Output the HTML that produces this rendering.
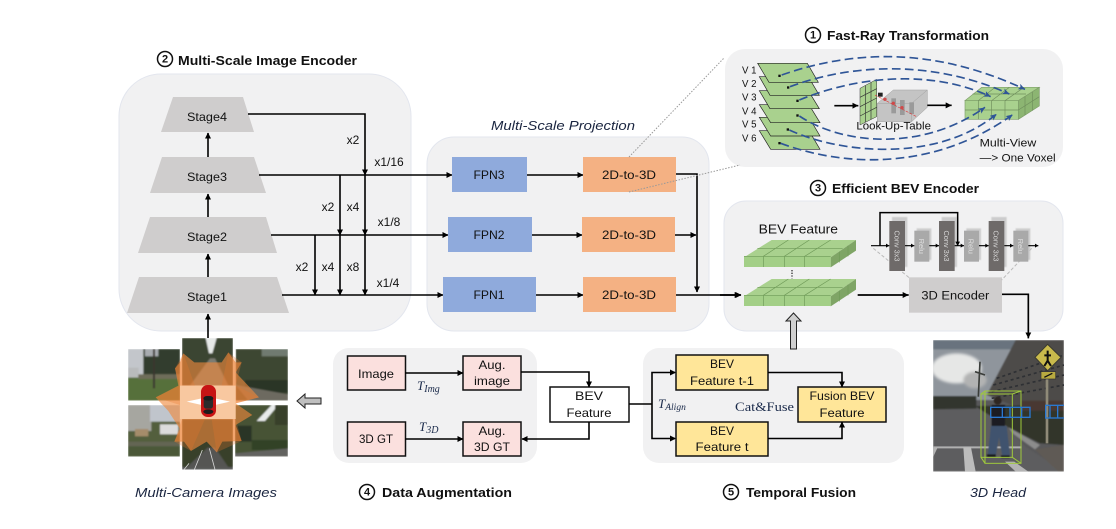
<!DOCTYPE html>
<html><head><meta charset="utf-8"><style>
html,body{margin:0;padding:0;background:#fff}
svg{display:block}
text{font-family:"Liberation Sans",sans-serif;fill:#111}
.c{text-anchor:middle;dominant-baseline:central;font-size:12px}
.b{font-weight:bold;font-size:13px;fill:#111}
.i{font-style:italic;font-size:13px;text-anchor:middle;fill:#1a2540}
.m{font-family:"Liberation Serif",serif;font-style:italic;fill:#1a2a4a}
.l{fill:none;stroke:#000;stroke-width:1.6}
.p{fill:#f1f1f2;stroke:#e3e6ee;stroke-width:1}
</style></head><body>
<svg width="1116" height="529" viewBox="0 0 1116 529" xmlns="http://www.w3.org/2000/svg">
<defs>
<marker id="a" markerWidth="7" markerHeight="7" refX="5.5" refY="3" orient="auto" markerUnits="userSpaceOnUse"><path d="M0,0L6,3L0,6z" fill="#000"/></marker>
<marker id="bl" markerWidth="30" markerHeight="30" refX="20" refY="9" orient="auto" markerUnits="userSpaceOnUse"><path d="M0,0L20,9L0,18L5,9z" fill="#2f5597"/></marker>
<marker id="az" markerWidth="24" markerHeight="24" refX="18" refY="9" orient="auto" markerUnits="userSpaceOnUse"><path d="M0,0L18,9L0,18z" fill="#000"/></marker>
<filter id="f1" x="-10%" y="-10%" width="120%" height="120%"><feGaussianBlur stdDeviation="1.5"/></filter>
<filter id="f3" x="-5%" y="-5%" width="110%" height="110%"><feGaussianBlur stdDeviation="4"/></filter>
<filter id="f4" x="-5%" y="-5%" width="110%" height="110%"><feGaussianBlur stdDeviation="2"/></filter>
<clipPath id="c1"><rect x="39" y="42" width="156" height="155"/></clipPath>
<clipPath id="c2"><rect x="201" y="9" width="153" height="143"/></clipPath>
<clipPath id="c3"><rect x="362" y="42" width="157" height="155"/></clipPath>
<clipPath id="c4"><rect x="39" y="210" width="156" height="155"/></clipPath>
<clipPath id="c5"><rect x="201" y="252" width="153" height="152"/></clipPath>
<clipPath id="c6"><rect x="360" y="210" width="159" height="155"/></clipPath>
<clipPath id="c7"><rect x="24" y="30" width="393" height="395"/></clipPath>
</defs>

<!-- panels -->
<rect class="p" x="119" y="74" width="292" height="257" rx="42"/>
<rect class="p" x="427" y="137" width="282" height="194" rx="27"/>
<rect x="725" y="49" width="338" height="118" rx="20" fill="#f1f1f2"/>
<rect class="p" x="724" y="201" width="339" height="130" rx="22"/>
<rect x="333" y="348" width="204" height="115" rx="16" fill="#f1f1f2"/>
<rect x="643" y="348" width="261" height="115" rx="16" fill="#f1f1f2"/>

<!-- titles -->
<circle cx="165" cy="59" r="7.5" fill="none" stroke="#111" stroke-width="1.5"/><text x="165" y="59.5" class="c" style="font-size:11px;font-weight:bold">2</text>
<text x="178" y="65" class="b" textLength="179" lengthAdjust="spacingAndGlyphs">Multi-Scale Image Encoder</text>
<circle cx="813" cy="35" r="7.5" fill="none" stroke="#111" stroke-width="1.5"/><text x="813" y="35.5" class="c" style="font-size:11px;font-weight:bold">1</text>
<text x="827" y="40" class="b" textLength="162" lengthAdjust="spacingAndGlyphs">Fast-Ray Transformation</text>
<circle cx="818" cy="188" r="7.5" fill="none" stroke="#111" stroke-width="1.5"/><text x="818" y="188.5" class="c" style="font-size:11px;font-weight:bold">3</text>
<text x="832" y="193" class="b" textLength="147" lengthAdjust="spacingAndGlyphs">Efficient BEV  Encoder</text>
<circle cx="367" cy="492" r="7.5" fill="none" stroke="#111" stroke-width="1.5"/><text x="367" y="492.5" class="c" style="font-size:11px;font-weight:bold">4</text>
<text x="382" y="497" class="b" textLength="130" lengthAdjust="spacingAndGlyphs">Data Augmentation</text>
<circle cx="731" cy="492" r="7.5" fill="none" stroke="#111" stroke-width="1.5"/><text x="731" y="492.5" class="c" style="font-size:11px;font-weight:bold">5</text>
<text x="746" y="497" class="b" textLength="110" lengthAdjust="spacingAndGlyphs">Temporal Fusion</text>
<text x="563" y="130" class="i" textLength="144" lengthAdjust="spacingAndGlyphs">Multi-Scale Projection</text>
<text x="206" y="497" class="i" textLength="142" lengthAdjust="spacingAndGlyphs">Multi-Camera Images</text>
<text x="998" y="497" class="i" textLength="56" lengthAdjust="spacingAndGlyphs">3D Head</text>

<!-- stages -->
<g fill="#cfcdcd">
<polygon points="173,97 243,97 254,132 161,132"/>
<polygon points="162,157 254,157 266,193 150,193"/>
<polygon points="150,217 266,217 277,253 138,253"/>
<polygon points="139,277 277,277 289,313 127,313"/>
</g>
<text x="207" y="117" class="c" textLength="40" lengthAdjust="spacingAndGlyphs">Stage4</text>
<text x="207" y="177" class="c" textLength="40" lengthAdjust="spacingAndGlyphs">Stage3</text>
<text x="207" y="237" class="c" textLength="40" lengthAdjust="spacingAndGlyphs">Stage2</text>
<text x="207" y="297" class="c" textLength="40" lengthAdjust="spacingAndGlyphs">Stage1</text>
<g>
<path class="l" d="M208,338V314" marker-end="url(#a)"/>
<path class="l" d="M208,277V254" marker-end="url(#a)"/>
<path class="l" d="M208,217V194" marker-end="url(#a)"/>
<path class="l" d="M208,157V133" marker-end="url(#a)"/>
<path class="l" d="M248,114H365V175" marker-end="url(#a)"/>
<path class="l" d="M365,175V235" marker-end="url(#a)"/>
<path class="l" d="M365,235V295" marker-end="url(#a)"/>
<path class="l" d="M340,175V235" marker-end="url(#a)"/>
<path class="l" d="M340,235V295" marker-end="url(#a)"/>
<path class="l" d="M315,235V295" marker-end="url(#a)"/>
<path class="l" d="M259,175H452" marker-end="url(#a)"/>
<path class="l" d="M271,235H448" marker-end="url(#a)"/>
<path class="l" d="M282,295H443" marker-end="url(#a)"/>
<path class="l" d="M527,175H583" marker-end="url(#a)"/>
<path class="l" d="M532,235H582" marker-end="url(#a)"/>
<path class="l" d="M536,295H583" marker-end="url(#a)"/>
<path class="l" d="M676,174H697V292" marker-end="url(#a)"/>
<path class="l" d="M675,235H696" marker-end="url(#a)"/>
<path class="l" d="M676,295H741" marker-end="url(#a)"/>
</g>
<text x="353" y="140" class="c">x2</text><text x="389" y="162" class="c">x1/16</text>
<text x="328" y="207" class="c">x2</text><text x="353" y="207" class="c">x4</text><text x="389" y="222" class="c">x1/8</text>
<text x="302" y="267" class="c">x2</text><text x="328" y="267" class="c">x4</text><text x="353" y="267" class="c">x8</text><text x="388" y="283" class="c">x1/4</text>

<!-- FPN / 2D-3D -->
<g fill="#8faadc">
<rect x="452" y="157" width="75" height="35"/><rect x="448" y="217" width="84" height="35"/><rect x="443" y="277" width="93" height="35"/>
</g>
<g fill="#f4b183">
<rect x="583" y="157" width="93" height="35"/><rect x="582" y="217" width="93" height="35"/><rect x="583" y="277" width="93" height="35"/>
</g>
<text x="489" y="175" class="c" textLength="31" lengthAdjust="spacingAndGlyphs">FPN3</text>
<text x="489" y="235" class="c" textLength="31" lengthAdjust="spacingAndGlyphs">FPN2</text>
<text x="489" y="295" class="c" textLength="31" lengthAdjust="spacingAndGlyphs">FPN1</text>
<text x="629" y="175" class="c" textLength="54" lengthAdjust="spacingAndGlyphs">2D-to-3D</text>
<text x="629" y="235" class="c" textLength="54" lengthAdjust="spacingAndGlyphs">2D-to-3D</text>
<text x="629" y="295" class="c" textLength="54" lengthAdjust="spacingAndGlyphs">2D-to-3D</text>
<path d="M629,157L724,58M629,192L740,165" fill="none" stroke="#999" stroke-width="1" stroke-dasharray="1.5,1.5"/>

<!-- Fast-ray -->
<g transform="translate(720,20) scale(.33333)">
<g fill="#a9d18e" stroke="#222" stroke-width="2">
<polygon points="118,332 267,332 300,388 152,388"/>
<polygon points="118,292 267,292 300,348 152,348"/>
<polygon points="118,254 267,254 300,308 152,308"/>
<polygon points="118,212 265,212 298,266 150,266"/>
<polygon points="118,170 265,170 298,226 150,226"/>
<polygon points="113,130 262,130 295,187 147,187"/>
</g>
<g fill="#111"><rect x="175" y="164" width="7" height="7"/><rect x="201" y="199" width="7" height="7"/><rect x="229" y="239" width="7" height="7"/><rect x="229" y="283" width="7" height="7"/><rect x="200" y="325" width="7" height="7"/><rect x="175" y="366" width="7" height="7"/></g>
<g><text x="66" y="160" style="font-size:29px">V 1</text><text x="66" y="201" style="font-size:29px">V 2</text><text x="66" y="241" style="font-size:29px">V 3</text><text x="66" y="283" style="font-size:29px">V 4</text><text x="66" y="323" style="font-size:29px">V 5</text><text x="66" y="364" style="font-size:29px">V 6</text></g>
<!-- box -->
<polygon points="472,250 520,210 622,210 622,262 575,305 472,305" fill="#c4c4c4" stroke="#a0a0a0" stroke-width="1.5"/>
<path d="M472,250H575V305M575,250L622,210" fill="none" stroke="#a0a0a0" stroke-width="1.5"/>
<rect x="514" y="235" width="14" height="45" fill="#9a9a9a"/><rect x="540" y="240" width="14" height="45" fill="#9a9a9a"/><rect x="568" y="247" width="14" height="35" fill="#9a9a9a"/>
<polygon points="420,205 470,178 470,290 420,315" fill="#a9d18e" stroke="#333" stroke-width="1.5"/>
<path d="M436,197V307M453,187V298M420,232L470,206M420,260L470,234M420,288L470,262" stroke="#333" stroke-width="2" fill="none"/>
<rect x="474" y="218" width="14" height="12" fill="#222"/>
<path d="M465,225L590,290" stroke="#e03030" stroke-width="2" stroke-dasharray="9,4"/>
<g fill="#d04848"><circle cx="495" cy="238" r="5"/><circle cx="520" cy="250" r="5"/><circle cx="546" cy="263" r="5"/></g>
<path d="M343,257H415" stroke="#000" stroke-width="5" marker-end="url(#az)"/>
<path d="M622,256H695" stroke="#000" stroke-width="5" marker-end="url(#az)"/>
<text x="521" y="329" style="font-size:32px" text-anchor="middle" textLength="224" lengthAdjust="spacingAndGlyphs">Look-Up-Table</text>
<!-- voxel -->
<polygon points="735,242 785,202 958,202 895,242" fill="#a9d18e" stroke="#7f9f6a" stroke-width="2"/>
<polygon points="895,242 958,202 958,258 895,298" fill="#8cb572" stroke="#7f9f6a" stroke-width="2"/>
<rect x="735" y="242" width="160" height="56" fill="#a9d18e" stroke="#7f9f6a" stroke-width="2"/>
<path d="M775,242V298M815,242V298M855,242V298M735,270H895M895,270L958,230M915,229V285M937,216V272M775,242L825,202M815,242L868,202M855,242L912,202M758,222H918" stroke="#6f8f5c" stroke-width="2" fill="none"/>
<g fill="none" stroke="#2f5597" stroke-width="5" stroke-dasharray="26,13">
<path d="M185,165C400,90 640,80 915,208" marker-end="url(#bl)"/>
<path d="M210,200C400,130 640,120 868,222" marker-end="url(#bl)"/>
<path d="M238,240C420,165 640,150 812,230" marker-end="url(#bl)"/>
<path d="M238,288C360,370 600,400 795,262" marker-end="url(#bl)"/>
<path d="M208,330C360,400 650,430 830,282" marker-end="url(#bl)"/>
<path d="M182,370C400,450 660,440 878,284" marker-end="url(#bl)"/>
</g>
<text x="779" y="380" style="font-size:32px" textLength="170" lengthAdjust="spacingAndGlyphs">Multi-View</text>
<text x="779" y="425" style="font-size:32px" textLength="228" lengthAdjust="spacingAndGlyphs">—&gt;  One Voxel</text>
</g>

<!-- BEV encoder -->
<g transform="translate(720,175) scale(.33333)">
<text x="235" y="175" text-anchor="middle" style="font-size:38px" textLength="238" lengthAdjust="spacingAndGlyphs">BEV Feature</text>
<g>
<polygon points="72,247 155,195 408,195 332,247" fill="#a9d18e"/>
<polygon points="332,247 408,195 408,227 332,277" fill="#7fa566"/>
<rect x="72" y="243" width="260" height="33" fill="#a3cf87"/>
<path d="M72,244H332M130,244V276M193,244V276M254,244V276M130,244L205,195M193,244L268,195M254,244L332,195M112,220H368M358,230V262M384,212V244" stroke="#6f9a58" stroke-width="2" fill="none"/>
</g>
<g transform="translate(0,117)">
<polygon points="72,247 155,195 408,195 332,247" fill="#a9d18e"/>
<polygon points="332,247 408,195 408,227 332,277" fill="#7fa566"/>
<rect x="72" y="243" width="260" height="33" fill="#a3cf87"/>
<path d="M72,244H332M130,244V276M193,244V276M254,244V276M130,244L205,195M193,244L268,195M254,244L332,195M112,220H368M358,230V262M384,212V244" stroke="#6f9a58" stroke-width="2" fill="none"/>
</g>
<path d="M216,285V310" stroke="#333" stroke-width="4" stroke-dasharray="4,4"/>
<path d="M0,360H62" stroke="#000" stroke-width="5" marker-end="url(#az)"/>
<path d="M413,360H566" stroke="#000" stroke-width="5" marker-end="url(#az)"/>
<rect x="567" y="307" width="279" height="106" fill="#cfcdcd"/>
<text x="706" y="373" text-anchor="middle" style="font-size:36px" textLength="204" lengthAdjust="spacingAndGlyphs">3D Encoder</text>
<path d="M846,358H925V490" fill="none" stroke="#000" stroke-width="5" marker-end="url(#az)"/>
<path d="M460,220L570,310M935,220L845,315" stroke="#bbb" stroke-width="3" stroke-dasharray="10,6" fill="none"/>
<g fill="#c4c4c4" filter="url(#f1)" opacity=".8"><rect x="516" y="126" width="46" height="150"/><rect x="665" y="126" width="46" height="150"/><rect x="814" y="126" width="46" height="150"/><rect x="590" y="160" width="44" height="95"/><rect x="739" y="160" width="44" height="95"/><rect x="887" y="160" width="44" height="95"/></g>
<g fill="#6e6a69"><rect x="508" y="138" width="47" height="150"/><rect x="657" y="138" width="47" height="150"/><rect x="806" y="138" width="47" height="150"/></g>
<g fill="#a9a9a9"><rect x="583" y="167" width="45" height="93"/><rect x="732" y="167" width="45" height="93"/><rect x="880" y="167" width="45" height="93"/></g>
<g fill="#000" stroke="#000" stroke-width="3.5">
<path d="M453,212H508M555,212H583M628,212H657M704,212H732M777,212H806M853,212H880M925,212H955" fill="none"/>
<path d="M480,212V113H713V212" fill="none" stroke-width="4.5"/>
</g>
<g fill="#000"><path d="M508,212l-10,-6v12zM583,212l-10,-6v12zM657,212l-10,-6v12zM732,212l-10,-6v12zM806,212l-10,-6v12zM880,212l-10,-6v12zM955,212l-10,-6v12zM713,213l-7,-13h14z"/></g>
<g>
<text transform="translate(523,213) rotate(90)" text-anchor="middle" style="font-size:22px;fill:#d8d8d8">Conv 3x3</text>
<text transform="translate(672,213) rotate(90)" text-anchor="middle" style="font-size:22px;fill:#d8d8d8">Conv 3x3</text>
<text transform="translate(821,213) rotate(90)" text-anchor="middle" style="font-size:22px;fill:#d8d8d8">Conv 3x3</text>
<text transform="translate(597,214) rotate(90)" text-anchor="middle" style="font-size:22px;fill:#e0e0e0">Relu</text>
<text transform="translate(746,214) rotate(90)" text-anchor="middle" style="font-size:22px;fill:#e0e0e0">Relu</text>
<text transform="translate(894,214) rotate(90)" text-anchor="middle" style="font-size:22px;fill:#e0e0e0">Relu</text>
</g>
</g>
<!-- gray arrows -->
<polygon points="793.5,313 801,321 796.5,321 796.5,349 790.5,349 790.5,321 786,321" fill="#cfcfcf" stroke="#222" stroke-width="1"/>
<polygon points="297,401 305,394 305,398 321,398 321,404 305,404 305,408" fill="#bfbfbf" stroke="#222" stroke-width="1"/>

<!-- Data aug -->
<g stroke="#111" stroke-width="1.5" fill="#fbe0de">
<rect x="347.5" y="356" width="58" height="34"/><rect x="463" y="356" width="58" height="34"/>
<rect x="347.5" y="422" width="58" height="34"/><rect x="463" y="422" width="58" height="34"/>
</g>
<rect x="550" y="387" width="79" height="35" fill="#fff" stroke="#111" stroke-width="1.5"/>
<text x="376" y="374" class="c" textLength="36" lengthAdjust="spacingAndGlyphs">Image</text>
<text x="376" y="439" class="c" textLength="34" lengthAdjust="spacingAndGlyphs">3D GT</text>
<text x="492" y="365" class="c" textLength="27" lengthAdjust="spacingAndGlyphs">Aug.</text>
<text x="492" y="381" class="c" textLength="36" lengthAdjust="spacingAndGlyphs">image</text>
<text x="492" y="431" class="c" textLength="27" lengthAdjust="spacingAndGlyphs">Aug.</text>
<text x="492" y="447" class="c" textLength="36" lengthAdjust="spacingAndGlyphs">3D GT</text>
<text x="589" y="396" class="c" textLength="28" lengthAdjust="spacingAndGlyphs">BEV</text>
<text x="589" y="413" class="c" textLength="45" lengthAdjust="spacingAndGlyphs">Feature</text>
<path class="l" d="M405,373H463" marker-end="url(#a)"/>
<path class="l" d="M405,439H463" marker-end="url(#a)"/>
<path class="l" d="M521,372H589V387" marker-end="url(#a)"/>
<path class="l" d="M589,422V439H522" marker-end="url(#a)"/>
<text x="417" y="390" class="m" style="font-size:13px">T<tspan dy="2" style="font-size:10px">Img</tspan></text>
<text x="419" y="431" class="m" style="font-size:13px">T<tspan dy="2" style="font-size:10px">3D</tspan></text>

<!-- Temporal -->
<g stroke="#111" stroke-width="1.5" fill="#ffe699">
<rect x="676" y="355" width="92" height="35"/><rect x="676" y="422" width="92" height="34"/><rect x="798" y="387" width="88" height="35"/>
</g>
<text x="722" y="364" class="c" textLength="24" lengthAdjust="spacingAndGlyphs">BEV</text>
<text x="722" y="381" class="c" textLength="64" lengthAdjust="spacingAndGlyphs">Feature t-1</text>
<text x="722" y="431" class="c" textLength="24" lengthAdjust="spacingAndGlyphs">BEV</text>
<text x="722" y="447" class="c" textLength="53" lengthAdjust="spacingAndGlyphs">Feature t</text>
<text x="842" y="396" class="c" textLength="65" lengthAdjust="spacingAndGlyphs">Fusion BEV</text>
<text x="842" y="413" class="c" textLength="45" lengthAdjust="spacingAndGlyphs">Feature</text>
<path class="l" d="M629,404H652"/>
<path class="l" d="M675,372.5H652V438.5H675"/>
<path d="M676,372.5l-6,-3v6zM676,438.5l-6,-3v6z" fill="#000"/>
<path class="l" d="M768,372.5H842V387" marker-end="url(#a)"/>
<path class="l" d="M768,438.5H842V422" marker-end="url(#a)"/>
<text x="658" y="408" class="m" style="font-size:13px">T<tspan dy="2" style="font-size:9.5px">Align</tspan></text>
<text x="735" y="411" style="font-family:'Liberation Serif',serif;font-size:13px;fill:#1a2a4a" textLength="59" lengthAdjust="spacingAndGlyphs">Cat&amp;Fuse</text>

<!-- Camera images (coordinates in zoomed space) -->
<g transform="translate(115,335) scale(.33333)">
<g clip-path="url(#c1)"><g filter="url(#f4)">
<rect x="39" y="42" width="156" height="155" fill="#434f39"/>
<rect x="85" y="42" width="110" height="75" fill="#323c2f"/>
<rect x="90" y="42" width="40" height="22" fill="#a8acb0"/>
<rect x="39" y="42" width="46" height="80" fill="#c3c6cb"/>
<rect x="39" y="98" width="32" height="30" fill="#b9bbbc"/>
<rect x="39" y="128" width="156" height="69" fill="#566f3b"/>
<rect x="70" y="118" width="125" height="14" fill="#6e6d5a"/>
<rect x="114" y="42" width="6" height="118" fill="#3b362f"/>
</g></g>
<g clip-path="url(#c2)"><g filter="url(#f4)">
<rect x="201" y="9" width="153" height="143" fill="#3a4433"/>
<polygon points="272,9 305,9 292,55 282,55" fill="#e6e9e8"/>
<polygon points="285,70 225,152 340,152 300,70" fill="#7c7c72"/>
</g></g>
<g clip-path="url(#c3)"><g filter="url(#f4)">
<rect x="362" y="42" width="157" height="155" fill="#3d4732"/>
<rect x="440" y="42" width="79" height="22" fill="#6f7a70"/>
<rect x="390" y="135" width="129" height="38" fill="#293625"/>
<polygon points="362,150 519,178 519,197 400,197" fill="#6d6b60"/>
</g></g>
<g clip-path="url(#c4)"><g filter="url(#f4)">
<rect x="39" y="210" width="156" height="155" fill="#525f3e"/>
<rect x="39" y="210" width="70" height="78" fill="#a6a6a0"/>
<rect x="105" y="210" width="90" height="50" fill="#c0c5cc"/>
<rect x="135" y="268" width="55" height="30" fill="#dcdcdc"/>
<rect x="60" y="282" width="40" height="22" fill="#a58c6a"/>
<rect x="39" y="320" width="156" height="14" fill="#646553"/>
<rect x="39" y="334" width="156" height="31" fill="#4c5938"/>
</g></g>
<g clip-path="url(#c5)"><g filter="url(#f4)">
<rect x="201" y="252" width="153" height="152" fill="#38412c"/>
<polygon points="278,338 208,404 345,404 300,338" fill="#545552"/>
<rect x="201" y="396" width="153" height="8" fill="#585858"/>
</g><path d="M262,345L238,404M283,340L300,404M222,385L207,404" stroke="#d6d6d6" stroke-width="2.5" fill="none"/></g>
<g clip-path="url(#c6)"><g filter="url(#f4)">
<rect x="360" y="210" width="159" height="155" fill="#465236"/>
<polygon points="425,258 470,210 490,210 450,258" fill="#e8ebeb"/>
<rect x="360" y="272" width="50" height="48" fill="#293426"/>
<rect x="410" y="315" width="109" height="30" fill="#334228"/>
<polygon points="360,355 519,340 519,365 360,365" fill="#636360"/>
<rect x="480" y="210" width="39" height="60" fill="#37412c"/>
</g></g>
<!-- orange star -->
<polygon points="205,55 238,82 320,82 340,52 362,82 380,82 362,112 432,187 362,205 412,240 362,270 380,318 322,320 305,352 275,320 228,348 207,320 178,320 195,282 160,228 122,187 190,152 180,100 195,82" fill="#f0893b" opacity=".62"/>
<polygon points="205,55 240,152 195,152 180,100" fill="#e8782a" opacity=".28"/>
<polygon points="340,52 320,152 362,152 380,82" fill="#e8782a" opacity=".28"/>
<polygon points="122,187 195,152 195,210" fill="#e8782a" opacity=".3"/>
<polygon points="432,187 362,152 362,205" fill="#e8782a" opacity=".3"/>
<polygon points="228,348 270,252 201,252 178,320" fill="#e8782a" opacity=".28"/>
<polygon points="305,352 290,252 362,252 380,318" fill="#e8782a" opacity=".28"/>
<rect x="195" y="152" width="167" height="100" fill="#f8c8a0"/>
<polygon points="215,200 260,190 260,210" fill="#fff"/>
<polygon points="345,200 300,190 300,210" fill="#fff"/>
<rect x="258" y="150" width="45" height="96" rx="20" fill="#c71414"/>
<rect x="266" y="183" width="28" height="38" rx="8" fill="#2c2c2c"/>
<ellipse cx="280" cy="190" rx="15" ry="7" fill="#1c1c1c"/>
<ellipse cx="280" cy="230" rx="15" ry="7" fill="#1c1c1c"/>
</g>

<!-- 3D head photo (coordinates in zoomed space) -->
<g transform="translate(925,330) scale(.33333)">
<g clip-path="url(#c7)">
<g filter="url(#f4)">
<rect x="24" y="30" width="393" height="395" fill="#58585a"/>
<rect x="24" y="30" width="260" height="180" fill="#8f959c"/>
<rect x="24" y="30" width="260" height="28" fill="#69737e"/>
<g filter="url(#f3)"><ellipse cx="95" cy="115" rx="75" ry="45" fill="#e6e7e6"/><ellipse cx="150" cy="150" rx="35" ry="25" fill="#b2b3b3"/></g>
<polygon points="185,195 272,30 417,30 417,225 285,235" fill="#4d4b48"/>
<rect x="24" y="198" width="130" height="42" fill="#31362e"/>
<polygon points="24,238 190,235 300,350 417,425 24,425" fill="#5d5d5e"/>
<polygon points="150,228 417,225 417,345 345,340 250,292" fill="#33352c"/>
<polygon points="250,292 300,320 345,345 330,358 265,312" fill="#8c8c8c"/>
<polygon points="330,358 417,345 417,425 400,425" fill="#5f5a54"/>
<rect x="290" y="212" width="127" height="30" fill="#4a3832"/>
</g>
<path d="M165,95L160,200M150,125L180,135" stroke="#3a3d3a" stroke-width="5" fill="none"/>
<g stroke="#2e3034" stroke-width="5" fill="none" stroke-dasharray="9,9">
<path d="M215,145L417,75M205,165L417,105M200,185L417,135M200,205L417,165"/>
</g>
<path d="M24,352H290" stroke="#b0b0b0" stroke-width="6"/>
<polygon points="115,352 138,352 152,425 120,425" fill="#bcbcbc"/>
<polygon points="240,395 268,395 310,425 272,425" fill="#b4b4b4"/>
<polygon points="24,352 38,352 24,382" fill="#b4b4b4"/>
<rect x="362" y="147" width="8" height="193" fill="#8f8a78"/>
<polygon points="368,43 408,82 368,122 330,82" fill="#c9ba4c" stroke="#3a3a30" stroke-width="3"/>
<path d="M368,62V92M368,92L358,108M368,92L378,108M358,76L378,76" stroke="#111" stroke-width="6" fill="none"/>
<rect x="348" y="125" width="44" height="22" fill="#b8aa40" stroke="#333" stroke-width="2"/>
<path d="M358,142L382,130" stroke="#111" stroke-width="4"/>
<!-- person -->
<g filter="url(#f1)">
<circle cx="218" cy="212" r="12" fill="#2f2522"/>
<rect x="200" y="225" width="40" height="65" fill="#1d1f24"/>
<polygon points="198,288 245,288 255,378 232,378 222,322 212,378 188,378" fill="#40526e"/>
<rect x="186" y="373" width="26" height="8" fill="#1a1a1a"/><rect x="228" y="376" width="26" height="8" fill="#1a1a1a"/>
</g>
<g fill="none" stroke="#9fc93c" stroke-width="3">
<rect x="168" y="192" width="94" height="190"/>
<rect x="180" y="183" width="108" height="217"/>
<path d="M168,192L180,183M262,192L288,183M168,382L180,400M262,382L288,400"/>
</g>
<g fill="none" stroke="#2a78d0" stroke-width="4">
<rect x="197" y="232" width="118" height="30"/>
<path d="M232,232V262M255,232V262M290,232V262"/>
<rect x="362" y="226" width="60" height="38"/>
<path d="M375,226V264M398,226V264"/>
</g>
</g></g>
</svg>
</body></html>
